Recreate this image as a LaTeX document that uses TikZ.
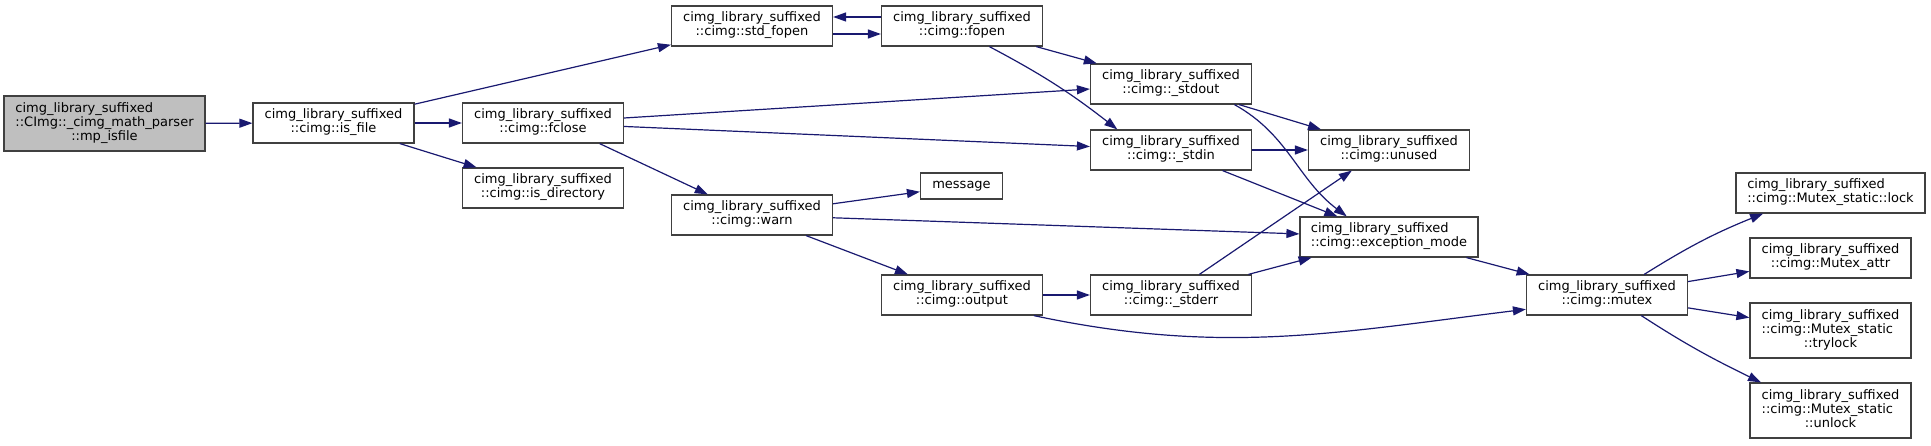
\documentclass[tikz,border=0pt]{standalone}
\usepackage[svgnames]{xcolor}
\usepackage{fontspec}
\setmainfont{DejaVu Sans}
\usepackage{tikz}
\usetikzlibrary{
  arrows.meta
}
\tikzset{
  func/.style={draw=boxline,line width=1.2pt,fill=white,
    minimum width=161pt,minimum height=40pt,inner sep=4pt,
    font=\fontsize{13}{14}\selectfont},
  root func/.style={func,fill=rootfill},
  calls/.style={draw=edgeblue,line width=1.2pt,
    -{Triangle[length=13pt,width=9pt]}},
}
\colorlet{edgeblue}{MidnightBlue}
\colorlet{boxline}{black!75}
\colorlet{rootfill}{black!25}
\newcommand{\fnname}[2]{%
  \begin{tabular}{@{}l@{}}#1\\\multicolumn{1}{@{}c@{}}{#2}\end{tabular}}
\newcommand{\fnnamelong}[3]{%
  \begin{tabular}{@{}l@{}}#1\\#2\\\multicolumn{1}{@{}c@{}}{#3}\end{tabular}}

\begin{document}
\begin{tikzpicture}[x=1pt,y=1pt]
\useasboundingbox (0,0) rectangle (1931,445);
\node[root func,minimum width=201pt,minimum height=55pt] (mpisfile) at (104.5,321.5)
  {\fnnamelong{cimg\_library\_suffixed}{::CImg::\_cimg\_math\_parser}{::mp\_isfile}};
\node[func] (isfile) at (333.5,322) {\fnname{cimg\_library\_suffixed}{::cimg::is\_file}};
\node[func] (fclose) at (543,322) {\fnname{cimg\_library\_suffixed}{::cimg::fclose}};
\node[func] (isdir) at (543,257) {\fnname{cimg\_library\_suffixed}{::cimg::is\_directory}};
\node[func] (stdfopen) at (752,419) {\fnname{cimg\_library\_suffixed}{::cimg::std\_fopen}};
\node[func] (warn) at (752,230) {\fnname{cimg\_library\_suffixed}{::cimg::warn}};
\node[func] (fopen) at (962,419) {\fnname{cimg\_library\_suffixed}{::cimg::fopen}};
\node[func,minimum width=82pt,minimum height=26pt] (message) at (961.5,259) {message};
\node[func] (output) at (962,150) {\fnname{cimg\_library\_suffixed}{::cimg::output}};
\node[func] (stdout) at (1171,361) {\fnname{cimg\_library\_suffixed}{::cimg::\_stdout}};
\node[func] (stdin) at (1171,295) {\fnname{cimg\_library\_suffixed}{::cimg::\_stdin}};
\node[func] (stderr) at (1171,150) {\fnname{cimg\_library\_suffixed}{::cimg::\_stderr}};
\node[func] (unused) at (1389,295) {\fnname{cimg\_library\_suffixed}{::cimg::unused}};
\node[func,minimum width=178pt] (excmode) at (1389,208)
  {\fnname{cimg\_library\_suffixed}{::cimg::exception\_mode}};
\node[func] (mutex) at (1607,150) {\fnname{cimg\_library\_suffixed}{::cimg::mutex}};
\node[func,minimum width=189pt] (lock) at (1830.5,252)
  {\fnname{cimg\_library\_suffixed}{::cimg::Mutex\_static::lock}};
\node[func] (attr) at (1830.5,187) {\fnname{cimg\_library\_suffixed}{::cimg::Mutex\_attr}};
\node[func,minimum height=55pt] (trylock) at (1830.5,114.5)
  {\fnnamelong{cimg\_library\_suffixed}{::cimg::Mutex\_static}{::trylock}};
\node[func,minimum height=55pt] (unlock) at (1830.5,34.5)
  {\fnnamelong{cimg\_library\_suffixed}{::cimg::Mutex\_static}{::unlock}};

\draw[calls] (mpisfile) -- (isfile);
\draw[calls] (isfile) -- (stdfopen);
\draw[calls] (isfile) -- (fclose);
\draw[calls] (isfile) -- (isdir);
\draw[calls] (fclose) -- (stdout);
\draw[calls] (fclose) -- (stdin);
\draw[calls] (fclose.-20.7) -- (warn.155);
\draw[calls] ([yshift=-8pt]stdfopen.east) -- ([yshift=-8pt]fopen.west);
\draw[calls] ([yshift=9pt]fopen.west) -- ([yshift=9pt]stdfopen.east);
\draw[calls] (fopen) -- (stdout);
\draw[calls] (fopen.-37.6) to[bend left=5] (stdin.159.7);
\draw[calls] (stdout) -- (unused);
\draw[calls] (stdout.-18) to[out=-29,in=143] (excmode.154.5);
\draw[calls] (stdin) -- (unused);
\draw[calls] (stdin) -- (excmode);
\draw[calls] (warn) -- (message);
\draw[calls] (warn) -- (excmode);
\draw[calls] (warn) -- (output);
\draw[calls] (output) -- (stderr);
\draw[calls] (output.-16.6) to[out=-12,in=187] (mutex.190.6);
\draw[calls] (stderr.36.5) -- (unused.209);
\draw[calls] (stderr) -- (excmode);
\draw[calls] (excmode) -- (mutex);
\draw[calls] (mutex.29.7) to[out=32,in=202] (lock.197.5);
\draw[calls] (mutex) -- (attr);
\draw[calls] (mutex) -- (trylock);
\draw[calls] (mutex.-31.2) to[out=-33,in=154] (unlock.158.4);
\end{tikzpicture}
\end{document}
